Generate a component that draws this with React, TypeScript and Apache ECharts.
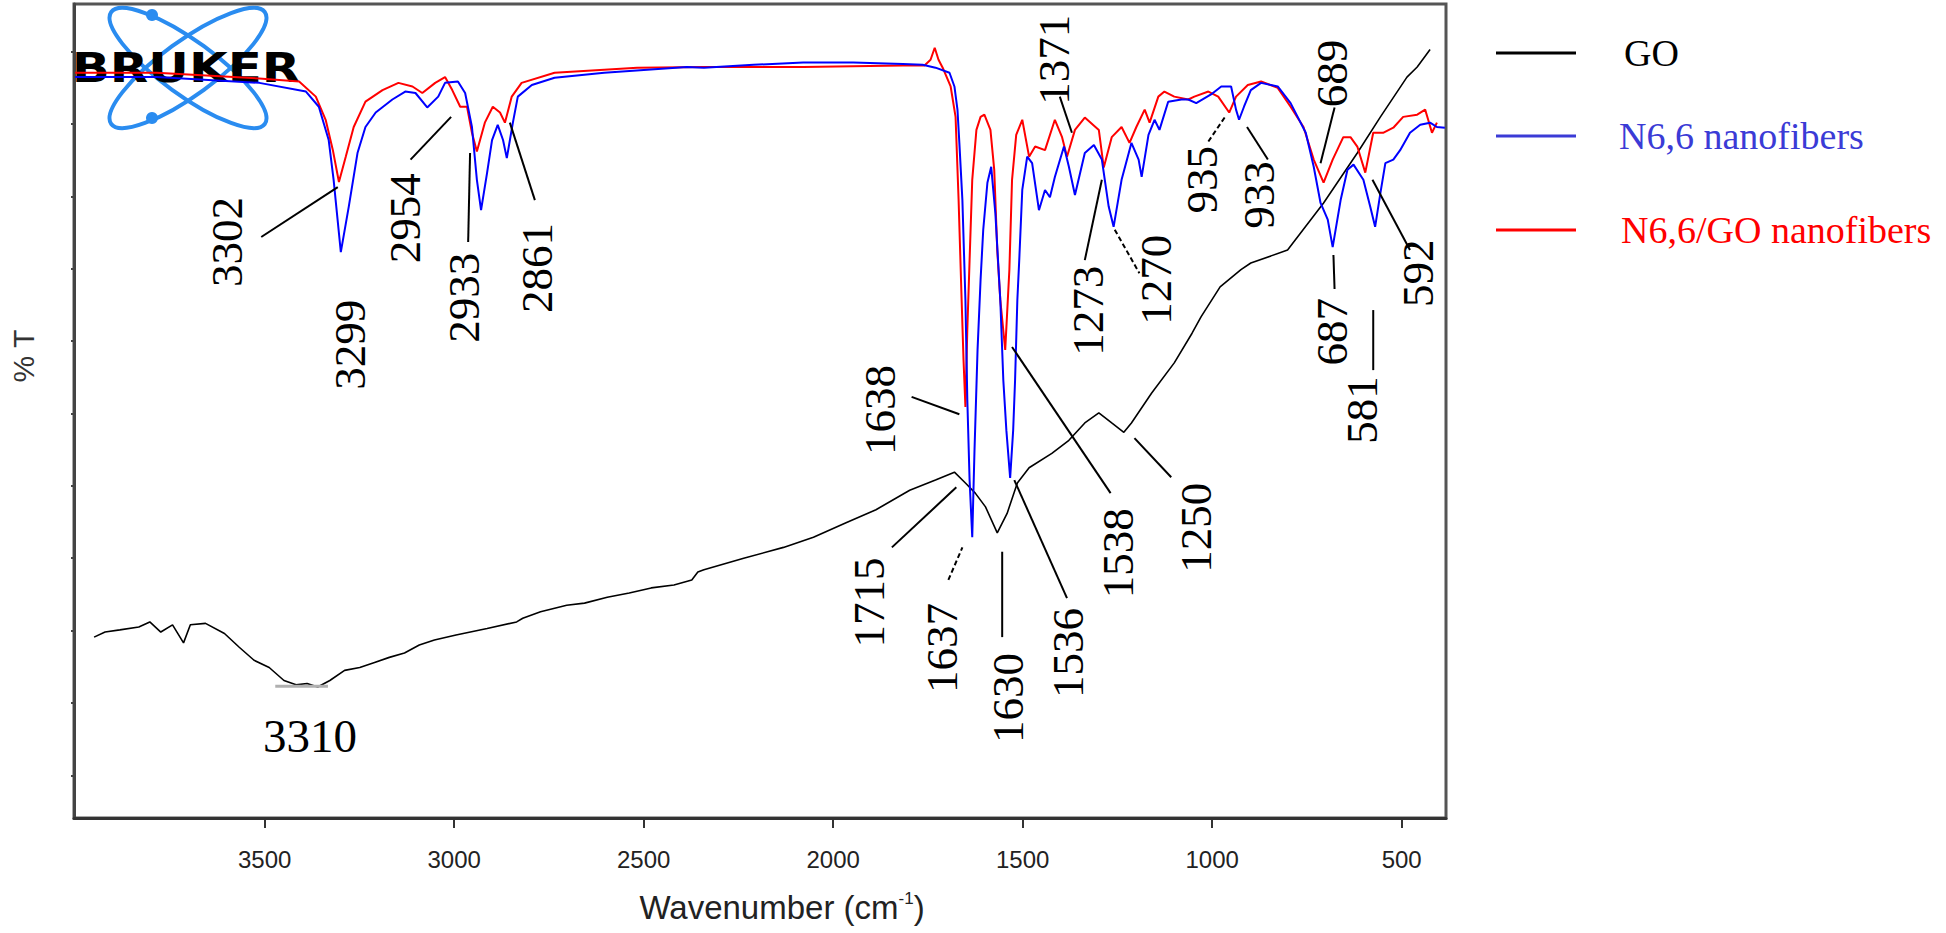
import React, { useEffect, useRef } from 'react';
import * as echarts from 'echarts';

// ---------- axis ticks ----------
const wavenumberTicks = [3500, 3000, 2500, 2000, 1500, 1000, 500];
const transmittanceTicks = [0, 10, 20, 30, 40, 50, 60, 70, 80, 90, 100];

// ---------- series names ----------
const seriesNames = ['GO', 'N6,6 nanofibers', 'N6,6/GO nanofibers'];

// ---------- spectra: [wavenumber (cm-1), %T (arbitrary)] ----------
const goSpectrum: [number, number][] = [
  [3950, 19.1], [3921, 19.8], [3882, 20.1], [3832, 20.5], [3803, 21.2], [3774, 19.8], [3743, 20.8],
  [3714, 18.3], [3696, 20.8], [3656, 21.0], [3606, 19.6], [3567, 17.7], [3528, 15.9], [3488, 14.9],
  [3449, 13.1], [3417, 12.5], [3388, 12.7], [3360, 12.2], [3328, 13.1], [3289, 14.5], [3249, 14.9],
  [3210, 15.6], [3171, 16.3], [3131, 16.9], [3092, 18.0], [3052, 18.7], [2995, 19.4], [2913, 20.3],
  [2835, 21.2], [2819, 21.7], [2772, 22.6], [2703, 23.5], [2656, 23.8], [2596, 24.6], [2538, 25.2],
  [2480, 25.9], [2420, 26.3], [2373, 27.0], [2357, 28.1], [2341, 28.4], [2236, 30.0], [2131, 31.5],
  [2052, 32.9], [1966, 34.9], [1887, 36.7], [1798, 39.4], [1730, 40.8], [1680, 41.9], [1651, 40.4],
  [1625, 39.0], [1598, 37.1], [1567, 33.5], [1541, 36.2], [1514, 40.4], [1483, 42.5], [1423, 44.5],
  [1378, 46.3], [1336, 48.7], [1299, 50.1], [1265, 48.7], [1233, 47.4], [1213, 48.7], [1160, 52.8],
  [1100, 57.0], [1053, 61.1], [1029, 63.4], [979, 67.5], [924, 69.9], [898, 70.8], [801, 72.6],
  [706, 79.1], [617, 86.0], [556, 91.0], [486, 96.5], [459, 97.9], [425, 100.3],
];

const n66Spectrum: [number, number][] = [
  [4000, 96.5], [3785, 96.5], [3514, 95.7], [3391, 94.5], [3357, 92.4], [3331, 87.8], [3318, 82.3],
  [3299, 72.3], [3278, 78.6], [3255, 86.0], [3234, 89.6], [3207, 91.6], [3163, 93.4], [3129, 94.5],
  [3102, 94.3], [3071, 92.3], [3042, 93.8], [3024, 95.7], [2990, 95.9], [2971, 94.3], [2953, 89.6],
  [2940, 82.3], [2929, 78.1], [2913, 83.3], [2900, 87.8], [2885, 89.9], [2871, 87.8], [2861, 85.3],
  [2845, 90.2], [2832, 93.8], [2795, 95.4], [2735, 96.4], [2604, 97.1], [2386, 97.9], [2341, 97.8],
  [2210, 98.2], [2079, 98.5], [1947, 98.5], [1816, 98.3], [1764, 98.2], [1730, 97.8], [1693, 97.1],
  [1680, 95.2], [1672, 92.0], [1667, 87.4], [1659, 79.5], [1651, 65.7], [1646, 51.9], [1640, 40.8],
  [1633, 32.9], [1627, 45.0], [1619, 58.8], [1611, 68.5], [1604, 75.4], [1593, 81.9], [1583, 84.1],
  [1572, 77.7], [1559, 65.7], [1551, 54.6], [1543, 47.7], [1533, 41.1], [1525, 47.7], [1520, 54.6],
  [1514, 65.7], [1509, 71.2], [1501, 80.9], [1488, 85.5], [1475, 84.6], [1457, 78.1], [1441, 80.9],
  [1428, 79.9], [1415, 82.7], [1391, 86.9], [1378, 84.1], [1362, 80.2], [1336, 86.0], [1312, 87.1],
  [1291, 85.1], [1273, 78.6], [1260, 75.8], [1239, 82.3], [1213, 87.4], [1194, 85.1], [1186, 82.7],
  [1168, 88.5], [1152, 90.6], [1139, 89.2], [1116, 93.1], [1081, 93.4], [1063, 93.4], [1042, 92.9],
  [1003, 94.1], [976, 95.2], [950, 95.2], [937, 92.0], [929, 90.6], [916, 92.4], [898, 94.7],
  [871, 95.7], [827, 95.2], [793, 92.9], [753, 88.8], [732, 84.1], [714, 79.1], [695, 76.8],
  [682, 73.0], [661, 79.5], [643, 83.7], [627, 84.4], [601, 82.3], [583, 78.6], [570, 75.8],
  [556, 80.5], [543, 84.6], [522, 85.1], [504, 86.4], [478, 88.8], [451, 89.9], [425, 90.2],
  [407, 89.6], [386, 89.5],
];

const n66GoSpectrum: [number, number][] = [
  [4000, 97.1], [3785, 97.1], [3514, 96.3], [3409, 95.9], [3365, 93.8], [3339, 90.6], [3320, 86.4],
  [3304, 82.0], [3286, 85.5], [3265, 89.6], [3234, 93.1], [3189, 94.7], [3147, 95.7], [3110, 95.2],
  [3084, 94.3], [3050, 95.7], [3024, 96.5], [3005, 94.7], [2984, 92.4], [2966, 92.4], [2953, 88.8],
  [2940, 86.2], [2919, 90.2], [2898, 92.4], [2879, 91.6], [2866, 90.2], [2848, 93.8], [2822, 95.7],
  [2735, 97.1], [2517, 97.8], [2341, 97.9], [2079, 97.9], [1816, 98.1], [1759, 98.1], [1743, 98.9],
  [1732, 100.55], [1722, 98.9], [1711, 97.8], [1690, 95.2], [1677, 91.0], [1669, 79.5], [1661, 65.7],
  [1656, 57.4], [1651, 50.9], [1646, 61.6], [1640, 71.2], [1633, 82.3], [1622, 89.2], [1611, 91.0],
  [1601, 91.3], [1585, 89.2], [1575, 83.7], [1567, 72.6], [1559, 65.7], [1546, 58.8], [1535, 69.9],
  [1528, 82.3], [1517, 88.5], [1501, 90.6], [1483, 85.5], [1467, 86.9], [1441, 86.4], [1415, 90.6],
  [1396, 88.2], [1383, 85.5], [1362, 89.2], [1336, 90.9], [1299, 89.2], [1286, 84.0], [1265, 88.2],
  [1239, 89.6], [1218, 87.4], [1200, 89.6], [1178, 92.0], [1165, 90.2], [1142, 93.8], [1126, 94.5],
  [1100, 93.8], [1063, 93.4], [1047, 93.8], [1010, 94.5], [984, 93.8], [955, 91.6], [937, 93.8],
  [906, 95.4], [871, 95.9], [827, 95.0], [793, 92.4], [759, 89.6], [732, 85.1], [706, 81.9],
  [682, 85.1], [654, 88.2], [635, 88.2], [617, 86.9], [596, 83.3], [575, 88.8], [549, 88.8],
  [522, 89.5], [496, 91.0], [459, 91.3], [438, 92.0], [430, 90.6], [420, 88.8], [407, 90.2],
];

// ---------- peak annotations (placed in data coordinates) ----------
type Peak = {
  text: string;
  at: [number, number];
  from?: [number, number];
  to?: [number, number];
  dash?: boolean;
};
const peakLabels: Peak[] = [
  { text: '3302', at: [3598, 73.7], from: [3509, 74.4], to: [3307, 81.3] },
  { text: '3299', at: [3276, 59.5] },
  { text: '2954', at: [3129, 77.0], from: [3115, 85.1], to: [3008, 91.0] },
  { text: '2933', at: [2974, 66.0], from: [2963, 73.7], to: [2958, 86.0] },
  { text: '2861', at: [2782, 70.1], from: [2787, 79.5], to: [2853, 90.2] },
  { text: '1638', at: [1877, 50.5], from: [1793, 52.3], to: [1667, 49.9] },
  { text: '1715', at: [1905, 23.9], from: [1845, 31.5], to: [1675, 39.8] },
  { text: '1637', at: [1714, 17.6], from: [1696, 27.0], to: [1659, 31.5], dash: true },
  { text: '1630', at: [1538, 10.7], from: [1554, 30.9], to: [1554, 19.1] },
  { text: '1536', at: [1380, 16.9], from: [1522, 40.8], to: [1383, 24.5] },
  { text: '1538', at: [1249, 30.7], from: [1528, 59.2], to: [1268, 39.0] },
  { text: '1250', at: [1042, 34.2], from: [1205, 46.6], to: [1108, 41.2] },
  { text: '1273', at: [1328, 64.2], from: [1336, 71.2], to: [1291, 82.3] },
  { text: '1270', at: [1147, 68.5], from: [1257, 75.4], to: [1192, 69.4], dash: true },
  { text: '1371', at: [1417, 98.9], from: [1402, 93.8], to: [1370, 88.8] },
  { text: '935', at: [1026, 82.3], from: [1010, 87.6], to: [966, 91.0], dash: true },
  { text: '933', at: [877, 80.2], from: [908, 89.6], to: [853, 85.1] },
  { text: '689', at: [685, 97.0], from: [677, 92.3], to: [714, 84.6] },
  { text: '687', at: [685, 61.3], from: [677, 67.2], to: [680, 71.9] },
  { text: '581', at: [604, 50.5], from: [575, 64.3], to: [575, 56.0] },
  { text: '592', at: [457, 69.4], from: [577, 82.3], to: [478, 72.6] },
];
const goBandLabel = { text: '3310', at: [3380, 5.4] as [number, number] };
const goBandMarker: [number, number][] = [[3472, 12.3], [3333, 12.3]];

const BLUE = '#0000ff';
const RED = '#ff0000';

export default function App() {
  const ref = useRef<HTMLDivElement>(null);

  useEffect(() => {
    if (!ref.current) return;
    const chart = echarts.init(ref.current, null, { renderer: 'svg' });

    const legendBase = {
      left: 1496,
      padding: 0,
      icon: 'rect',
      itemWidth: 80,
      itemHeight: 3,
      selectedMode: false,
    };

    const option: any = {
      animation: false,
      backgroundColor: '#ffffff',
      grid: {
        left: 67,
        top: 4,
        width: 1379,
        height: 814,
        show: true,
        borderColor: '#555',
        borderWidth: 3,
        backgroundColor: 'transparent',
      },
      legend: [
        {
          ...legendBase,
          top: 27,
          data: [{ name: seriesNames[0], itemStyle: { color: '#000' } }],
          textStyle: { fontFamily: 'Liberation Serif', fontSize: 38, lineHeight: 38, color: '#000', padding: [14, 0, 0, 43] },
        },
        {
          ...legendBase,
          top: 107,
          data: [{ name: seriesNames[1], itemStyle: { color: '#3b3bd6' } }],
          textStyle: { fontFamily: 'Liberation Serif', fontSize: 38, lineHeight: 38, color: '#3b3bd6', padding: [20, 0, 0, 38] },
        },
        {
          ...legendBase,
          top: 201,
          data: [{ name: seriesNames[2], itemStyle: { color: RED } }],
          textStyle: { fontFamily: 'Liberation Serif', fontSize: 38, lineHeight: 38, color: RED, padding: [20, 0, 0, 40] },
        },
      ],
      xAxis: {
        type: 'value',
        inverse: true,
        min: 383,
        max: 4003,
        name: '{a|Wavenumber (cm}{s|-1}{a|)}',
        nameLocation: 'middle',
        nameGap: 72,
        nameTextStyle: {
          padding: [0, 0, 0, 44],
          rich: {
            a: { fontFamily: 'Liberation Sans', fontSize: 33, color: '#222' },
            s: { fontFamily: 'Liberation Sans', fontSize: 17, color: '#222', padding: [0, 0, 18, 0] },
          },
        },
        axisLine: { show: true, onZero: false, lineStyle: { color: '#333', width: 3 } },
        axisTick: { show: true, customValues: wavenumberTicks, length: 10, lineStyle: { color: '#333', width: 2 } },
        axisLabel: {
          customValues: wavenumberTicks,
          formatter: (v: number) => String(v),
          fontFamily: 'Liberation Sans',
          fontSize: 24,
          color: '#222',
          margin: 29,
        },
        splitLine: { show: false },
      },
      yAxis: {
        type: 'value',
        min: -5.9,
        max: 106.6,
        name: '% T',
        nameLocation: 'middle',
        nameGap: 36,
        nameTextStyle: {
          fontFamily: 'Liberation Sans',
          fontSize: 30,
          color: '#333',
          padding: [0, 0, 0, 110],
        },
        axisLine: { show: true, onZero: false, lineStyle: { color: '#444', width: 3 } },
        axisTick: { show: true, customValues: transmittanceTicks, length: 3, lineStyle: { color: '#444', width: 2 } },
        axisLabel: { show: false },
        splitLine: { show: false },
      },
      series: [
        {
          name: seriesNames[0],
          type: 'line',
          data: goSpectrum,
          showSymbol: false,
          symbol: 'none',
          itemStyle: { color: '#000' },
          lineStyle: { color: '#000', width: 1.6 },
          z: 3,
        },
        {
          name: seriesNames[2],
          type: 'line',
          data: n66GoSpectrum,
          showSymbol: false,
          symbol: 'none',
          itemStyle: { color: RED },
          lineStyle: { color: RED, width: 2 },
          z: 4,
        },
        {
          name: seriesNames[1],
          type: 'line',
          data: n66Spectrum,
          showSymbol: false,
          symbol: 'none',
          itemStyle: { color: BLUE },
          lineStyle: { color: BLUE, width: 2 },
          z: 5,
        },
      ],
    };

    chart.setOption(option);

    const px = (p: [number, number]) => chart.convertToPixel({ gridIndex: 0 }, p) as number[];
    const elements: any[] = [];

    peakLabels.forEach((pk) => {
      const c = px(pk.at);
      elements.push({
        type: 'text',
        x: c[0],
        y: c[1],
        rotation: Math.PI / 2,
        z: 50,
        style: {
          text: pk.text,
          fill: '#000',
          fontFamily: 'Liberation Serif',
          fontSize: 45,
          align: 'center',
          verticalAlign: 'middle',
        },
      });
      if (pk.from && pk.to) {
        const a = px(pk.from);
        const b = px(pk.to);
        elements.push({
          type: 'line',
          z: 50,
          shape: { x1: a[0], y1: a[1], x2: b[0], y2: b[1] },
          style: { stroke: '#000', lineWidth: 2, lineDash: pk.dash ? [5, 3] : null },
        });
      }
    });

    const gl = px(goBandLabel.at);
    elements.push({
      type: 'text',
      x: gl[0],
      y: gl[1],
      z: 50,
      style: {
        text: goBandLabel.text,
        fill: '#000',
        fontFamily: 'Liberation Serif',
        fontSize: 47,
        align: 'center',
        verticalAlign: 'middle',
      },
    });
    const m0 = px(goBandMarker[0]);
    const m1 = px(goBandMarker[1]);
    elements.push({
      type: 'line',
      z: 49,
      shape: { x1: m0[0], y1: m0[1], x2: m1[0], y2: m1[1] },
      style: { stroke: '#b0b0b0', lineWidth: 3 },
    });

    // Bruker logo
    const logoBlue = '#2a8cf0';
    elements.push({
      type: 'group',
      z: 60,
      children: [
        {
          type: 'ellipse',
          x: 188,
          y: 68,
          rotation: -0.63,
          shape: { cx: 0, cy: 0, rx: 95, ry: 27 },
          style: { fill: 'none', stroke: logoBlue, lineWidth: 4 },
        },
        {
          type: 'ellipse',
          x: 188,
          y: 68,
          rotation: 0.63,
          shape: { cx: 0, cy: 0, rx: 95, ry: 27 },
          style: { fill: 'none', stroke: logoBlue, lineWidth: 4 },
        },
        { type: 'circle', shape: { cx: 152, cy: 15, r: 6 }, style: { fill: logoBlue } },
        { type: 'circle', shape: { cx: 152, cy: 118, r: 6 }, style: { fill: logoBlue } },
        {
          type: 'text',
          x: 186,
          y: 68,
          scaleX: 1.25,
          style: {
            text: 'BRUKER',
            fill: '#000',
            fontFamily: 'DejaVu Sans',
            fontWeight: 900,
            fontSize: 40,
            align: 'center',
            verticalAlign: 'middle',
          },
        },
      ],
    });

    chart.setOption({ graphic: elements });

    return () => {
      chart.dispose();
    };
  }, []);

  return (
    <div
      ref={ref}
      style={{ position: 'absolute', left: 0, top: 0, width: 1946, height: 933, background: '#fff' }}
    />
  );
}
